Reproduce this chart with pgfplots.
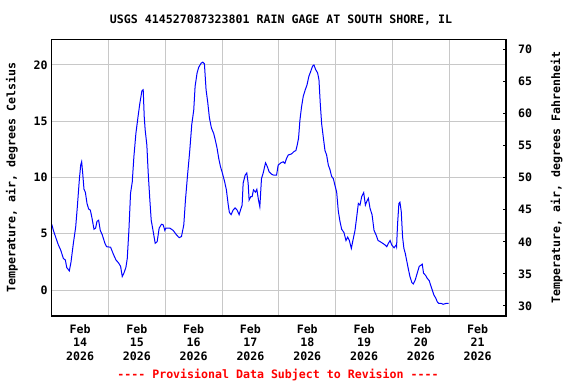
\documentclass[border=0pt]{standalone}
\usepackage{fontspec}
\setmonofont{DejaVu Sans Mono}
\usepackage{pgfplots}
\pgfplotsset{compat=1.18}
\definecolor{gridgray}{RGB}{200,200,200}
\begin{document}
\ttfamily\fontsize{8.7pt}{9.9pt}\selectfont\bfseries
\begin{tikzpicture}
\useasboundingbox (-38.8pt,-51pt) rectangle (393.2pt,237pt);
\begin{axis}[
  scale only axis, width=340.7pt, height=207.5pt,
  xmin=0, xmax=8, ymin=-2.31, ymax=22.28,
  /pgf/number format/assume math mode=true,
  axis line style={black, line width=1.1pt},
  xtick={0.5,1.5,...,7.5},
  xticklabels={{Feb\\14\\2026},{Feb\\15\\2026},{Feb\\16\\2026},{Feb\\17\\2026},{Feb\\18\\2026},{Feb\\19\\2026},{Feb\\20\\2026},{Feb\\21\\2026}},
  xticklabel style={align=center, yshift=-3.5pt},
  minor xtick={1,2,...,7},
  xminorgrids=true,
  ytick={0,5,10,15,20},
  ymajorgrids=true,
  grid style={gridgray, line width=0.75pt},
  minor grid style={gridgray, line width=0.75pt},
  major tick length=0pt, minor tick length=0pt,
  ylabel={Temperature, air, degrees Celsius},
  every axis y label/.style={at={(axis description cs:-0.0875,0.5)}, rotate=90, anchor=center},
]
\addplot[blue, line width=0.75pt] coordinates {
(0.000,5.84)(0.029,5.3)(0.076,4.6)(0.117,4.0)(0.158,3.55)(0.205,2.8)(0.240,2.67)(0.264,2.0)(0.310,1.7)(0.340,2.5)
(0.381,4.15)(0.422,5.6)(0.451,7.4)(0.486,9.8)(0.510,11.1)(0.527,11.4)(0.545,10.4)(0.568,8.95)(0.592,8.7)(0.621,7.7)
(0.650,7.2)(0.680,7.1)(0.709,6.4)(0.744,5.4)(0.773,5.5)(0.797,6.1)(0.826,6.2)(0.855,5.3)(0.890,4.9)(0.937,4.15)
(0.967,3.85)(1.037,3.8)(1.084,3.2)(1.131,2.67)(1.178,2.4)(1.213,2.1)(1.242,1.2)(1.271,1.5)(1.306,2.0)(1.330,2.8)
(1.359,5.3)(1.388,8.6)(1.418,9.6)(1.447,11.85)(1.482,13.9)(1.517,15.3)(1.552,16.6)(1.588,17.7)(1.611,17.8)(1.629,15.4)
(1.646,14.2)(1.675,12.9)(1.699,10.4)(1.728,8.0)(1.752,6.2)(1.787,5.2)(1.822,4.15)(1.857,4.3)(1.892,5.5)(1.933,5.84)
(1.962,5.8)(1.992,5.3)(2.009,5.5)(2.080,5.5)(2.138,5.3)(2.197,4.9)(2.244,4.65)(2.285,4.75)(2.326,5.8)(2.355,8.0)
(2.390,10.1)(2.431,12.4)(2.466,14.7)(2.501,16.0)(2.525,18.1)(2.560,19.3)(2.589,19.8)(2.630,20.15)(2.660,20.25)(2.689,20.1)
(2.718,17.8)(2.747,16.7)(2.777,15.3)(2.812,14.4)(2.853,13.9)(2.882,13.3)(2.912,12.6)(2.941,11.7)(2.970,11.0)(3.005,10.4)
(3.046,9.6)(3.076,8.9)(3.105,7.7)(3.128,6.9)
(3.159,6.7)(3.194,7.1)(3.229,7.3)(3.265,7.1)(3.300,6.7)(3.324,7.1)(3.353,7.55)(3.371,9.5)(3.406,10.2)(3.435,10.4)
(3.459,9.5)(3.476,8.0)(3.506,8.3)(3.529,8.3)(3.553,8.9)(3.588,8.7)(3.612,8.95)(3.641,8.0)(3.665,7.4)(3.694,9.9)
(3.724,10.4)(3.765,11.3)(3.794,11.0)(3.829,10.5)(3.871,10.3)(3.912,10.2)(3.959,10.2)(3.988,11.1)(4.035,11.3)(4.076,11.4)
(4.106,11.25)(4.135,11.7)(4.165,12.0)(4.224,12.1)(4.265,12.3)(4.300,12.4)(4.324,12.9)(4.347,13.5)(4.371,15.1)(4.400,16.3)
(4.429,17.2)(4.465,17.8)(4.494,18.2)(4.529,19.0)(4.559,19.4)(4.594,19.9)(4.618,20.0)(4.647,19.6)(4.682,19.3)(4.706,18.7)
(4.729,16.6)(4.753,14.8)(4.782,13.6)(4.812,12.4)(4.841,12.0)(4.871,11.1)(4.900,10.7)(4.929,10.1)(4.959,9.9)(4.988,9.3)
(5.018,8.7)(5.047,7.0)(5.076,6.1)(5.106,5.4)(5.147,5.1)(5.182,4.4)(5.212,4.7)(5.241,4.4)(5.276,3.7)(5.312,4.6)
(5.341,5.3)(5.371,6.5)(5.400,7.7)(5.429,7.55)(5.459,8.3)(5.494,8.65)(5.524,7.55)(5.547,7.85)(5.576,8.15)(5.606,7.25)
(5.641,6.7)(5.676,5.3)(5.712,4.9)(5.747,4.4)(5.782,4.3)(5.829,4.15)(5.871,4.0)(5.900,3.85)(5.929,4.15)(5.959,4.4)
(5.988,4.0)(6.029,3.75)(6.065,4.0)
(6.073,3.85)(6.091,5.9)(6.114,7.7)(6.132,7.8)(6.155,7.0)(6.179,4.7)(6.202,3.7)(6.226,3.26)(6.249,2.67)(6.279,1.9)
(6.308,1.2)(6.343,0.65)(6.367,0.53)(6.402,0.9)(6.437,1.5)(6.472,2.1)(6.501,2.2)(6.525,2.3)(6.548,1.5)(6.584,1.3)
(6.613,1.04)(6.648,0.83)(6.672,0.44)(6.701,0.0)(6.730,-0.44)(6.765,-0.74)(6.789,-1.04)(6.812,-1.18)(6.853,-1.18)(6.894,-1.27)
(6.953,-1.18)(6.988,-1.18)
};
\end{axis}
\begin{axis}[
  scale only axis, width=340.7pt, height=207.5pt,
  xmin=0, xmax=8, ymin=28.44, ymax=71.56,
  /pgf/number format/assume math mode=true,
  axis line style={black, line width=1.1pt},
  xtick=\empty,
  ytick={30,35,...,70},
  ytick pos=right, yticklabel pos=right,
  tick align=inside, major tick length=2.2pt,
  tick style={black, line width=0.75pt},
  yticklabel style={xshift=6pt},
  ylabel={Temperature, air, degrees Fahrenheit},
  every axis y label/.style={at={(axis description cs:1.1115,0.5)}, rotate=90, anchor=center},
]
\end{axis}
\node at (172pt,222pt) {USGS 414527087323801 RAIN GAGE AT SOUTH SHORE, IL};
\node[text={rgb,255:red,255;green,0;blue,0}] at (169.7pt,-44.25pt) {---- Provisional Data Subject to Revision ----};
\end{tikzpicture}
\end{document}
